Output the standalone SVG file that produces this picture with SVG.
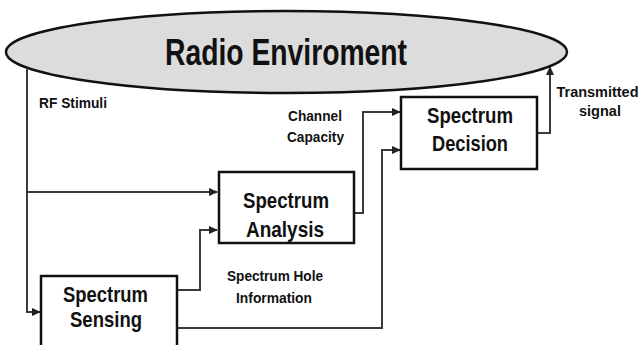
<svg xmlns="http://www.w3.org/2000/svg" width="643" height="345" viewBox="0 0 643 345">
<style>
text{font-family:"Liberation Sans",Arial,sans-serif;font-weight:bold;fill:#111}
.box{fill:#fff;stroke:#111;stroke-width:2.5}
.bt{font-size:21.5px;text-anchor:middle}
.lb{font-size:15.5px}
.c{text-anchor:middle}
.wire{fill:none;stroke:#3a3a3a;stroke-width:2}
</style>
<defs>
<marker id="ah" markerWidth="9" markerHeight="8" refX="8" refY="4" orient="auto" markerUnits="userSpaceOnUse">
<path d="M0,0 L9,4 L0,8 Z" fill="#222"/>
</marker>
</defs>
<rect width="643" height="345" fill="#fff"/>
<g id="env">
<ellipse cx="286.5" cy="52" rx="280.5" ry="41" fill="#dcdcdc" stroke="#111" stroke-width="2.5"/>
<text x="286" y="65" font-size="37" text-anchor="middle" textLength="242" lengthAdjust="spacingAndGlyphs">Radio Enviroment</text>
</g>
<g id="connectors">
<path class="wire" d="M27,68 V312 H40" marker-end="url(#ah)"/>
<path class="wire" d="M27,192 H217" marker-end="url(#ah)"/>
<path class="wire" d="M177,290 H200 V230 H217" marker-end="url(#ah)"/>
<path class="wire" d="M177,328 H382 V150 H400" marker-end="url(#ah)"/>
<path class="wire" d="M354,213 H363 V112 H400" marker-end="url(#ah)"/>
<path class="wire" d="M537,133 H550 V67" marker-end="url(#ah)"/>
</g>
<g id="labels">
<text class="lb" x="39" y="108" textLength="68" lengthAdjust="spacingAndGlyphs">RF Stimuli</text>
<text class="lb c" x="315" y="121" textLength="54" lengthAdjust="spacingAndGlyphs">Channel</text>
<text class="lb c" x="315.5" y="142" textLength="57" lengthAdjust="spacingAndGlyphs">Capacity</text>
<text class="c" x="597.5" y="97" font-size="14.5" textLength="82" lengthAdjust="spacingAndGlyphs">Transmitted</text>
<text class="lb c" x="600" y="116" textLength="42" lengthAdjust="spacingAndGlyphs">signal</text>
<text class="lb c" x="275" y="281" textLength="96" lengthAdjust="spacingAndGlyphs">Spectrum Hole</text>
<text class="lb c" x="274" y="303" textLength="76" lengthAdjust="spacingAndGlyphs">Information</text>
</g>
<g id="analysis">
<rect class="box" x="219" y="172" width="135" height="71"/>
<text class="bt" x="286" y="208" textLength="86" lengthAdjust="spacingAndGlyphs">Spectrum</text>
<text class="bt" x="285" y="237" textLength="78" lengthAdjust="spacingAndGlyphs">Analysis</text>
</g>
<g id="decision">
<rect class="box" x="401" y="97" width="136" height="72"/>
<text class="bt" x="470" y="123" textLength="86" lengthAdjust="spacingAndGlyphs">Spectrum</text>
<text class="bt" x="470" y="151" textLength="76" lengthAdjust="spacingAndGlyphs">Decision</text>
</g>
<g id="sensing">
<rect class="box" x="41" y="276" width="136" height="80"/>
<text class="bt" x="105.5" y="302" textLength="85" lengthAdjust="spacingAndGlyphs">Spectrum</text>
<text class="bt" x="106" y="327" textLength="72" lengthAdjust="spacingAndGlyphs">Sensing</text>
</g>
</svg>
